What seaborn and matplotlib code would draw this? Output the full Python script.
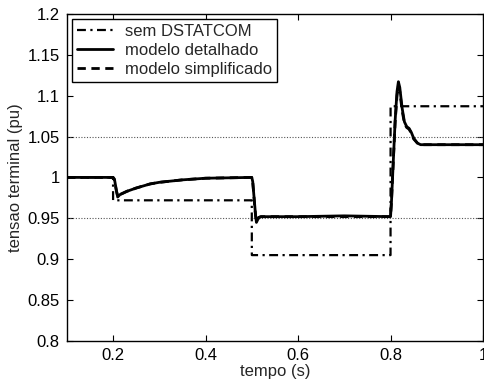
import numpy as np
import pandas as pd
import matplotlib
matplotlib.use("Agg")
import matplotlib.pyplot as plt
import seaborn as sns

# time points (s) and terminal voltage (pu)
t_sem = [0.1, 0.2, 0.2001, 0.5, 0.5001, 0.8, 0.8001, 1.0]
v_sem = [1.0, 1.0, 0.972, 0.972, 0.905, 0.905, 1.087, 1.087]

t_det = [0.1, 0.2, 0.203, 0.207, 0.21, 0.215, 0.23, 0.25, 0.28, 0.3, 0.35, 0.4, 0.5,
         0.502, 0.505, 0.508, 0.51, 0.515, 0.52, 0.6, 0.7, 0.8, 0.802, 0.806, 0.81,
         0.814, 0.817, 0.82, 0.825, 0.83, 0.835, 0.84, 0.845, 0.85, 0.858, 0.865, 0.9, 1.0]
v_det = [1.0, 1.0, 0.998, 0.985, 0.976, 0.979, 0.983, 0.987, 0.992, 0.994, 0.997, 0.999, 1.0,
         0.995, 0.975, 0.955, 0.945, 0.951, 0.952, 0.952, 0.953, 0.952, 0.97, 1.02, 1.07,
         1.105, 1.117, 1.11, 1.085, 1.068, 1.062, 1.06, 1.055, 1.048, 1.042, 1.04, 1.04, 1.04]

t_simp = [0.1, 0.2, 0.203, 0.207, 0.21, 0.215, 0.23, 0.25, 0.28, 0.3, 0.35, 0.4, 0.5,
          0.502, 0.505, 0.508, 0.51, 0.515, 0.52, 0.6, 0.7, 0.8, 0.802, 0.806, 0.81,
          0.814, 0.817, 0.82, 0.825, 0.83, 0.835, 0.84, 0.845, 0.85, 0.858, 0.865, 0.9, 1.0]
v_simp = [1.0, 1.0, 0.997, 0.984, 0.977, 0.979, 0.983, 0.987, 0.992, 0.994, 0.997, 0.999, 1.0,
          0.995, 0.974, 0.954, 0.946, 0.951, 0.952, 0.952, 0.952, 0.952, 0.97, 1.02, 1.068,
          1.1, 1.112, 1.105, 1.082, 1.066, 1.061, 1.059, 1.054, 1.047, 1.042, 1.04, 1.04, 1.04]

ref_levels = [0.95, 1.05]
labels = ["sem DSTATCOM", "modelo detalhado", "modelo simplificado"]

sns.set_style("white")
plt.rcParams["font.family"] = ["Liberation Sans", "DejaVu Sans"]

fig = plt.figure(figsize=(4.84, 3.84), dpi=100)
ax = fig.add_axes([0.138, 0.112, 0.860, 0.852])

for lv in ref_levels:
    ax.axhline(lv, color="#555555", linestyle=(0, (1, 1.5)), linewidth=0.8, zorder=1)

sns.lineplot(x=t_sem, y=v_sem, ax=ax, color="black", linewidth=1.6,
             label=labels[0], estimator=None, sort=False)
ax.lines[-1].set_linestyle((0, (4, 2, 1, 2)))
sns.lineplot(x=t_det, y=v_det, ax=ax, color="black", linewidth=2.0,
             label=labels[1], estimator=None, sort=False)
sns.lineplot(x=t_simp, y=v_simp, ax=ax, color="black", linewidth=2.0,
             label=labels[2], estimator=None, sort=False)
ax.lines[-1].set_linestyle((0, (3, 2)))

ax.set_xlim(0.1, 1.0)
ax.set_ylim(0.8, 1.2)
ax.set_xticks([0.2, 0.4, 0.6, 0.8, 1.0])
ax.set_xticklabels(["0.2", "0.4", "0.6", "0.8", "1"])
ax.set_yticks([0.8, 0.85, 0.9, 0.95, 1.0, 1.05, 1.1, 1.15, 1.2])
ax.set_yticklabels(["0.8", "0.85", "0.9", "0.95", "1", "1.05", "1.1", "1.15", "1.2"])
ax.tick_params(direction="in", length=4, width=0.8, top=True, right=True,
               bottom=True, left=True, labelsize=12, colors="black", pad=5)
for s in ax.spines.values():
    s.set_color("black")
    s.set_linewidth(1.0)
ax.set_xlabel("tempo (s)", fontsize=12, labelpad=1)
ax.set_ylabel("tensao terminal (pu)", fontsize=12, labelpad=3)

leg = ax.legend(loc="upper left", fontsize=12, frameon=True, fancybox=False,
                edgecolor="black", framealpha=1, borderaxespad=0.3,
                handlelength=2.2, labelspacing=0.25, borderpad=0.3, handletextpad=0.7)
leg.get_frame().set_linewidth(1.0)

fig.savefig("out.png", dpi=100)
